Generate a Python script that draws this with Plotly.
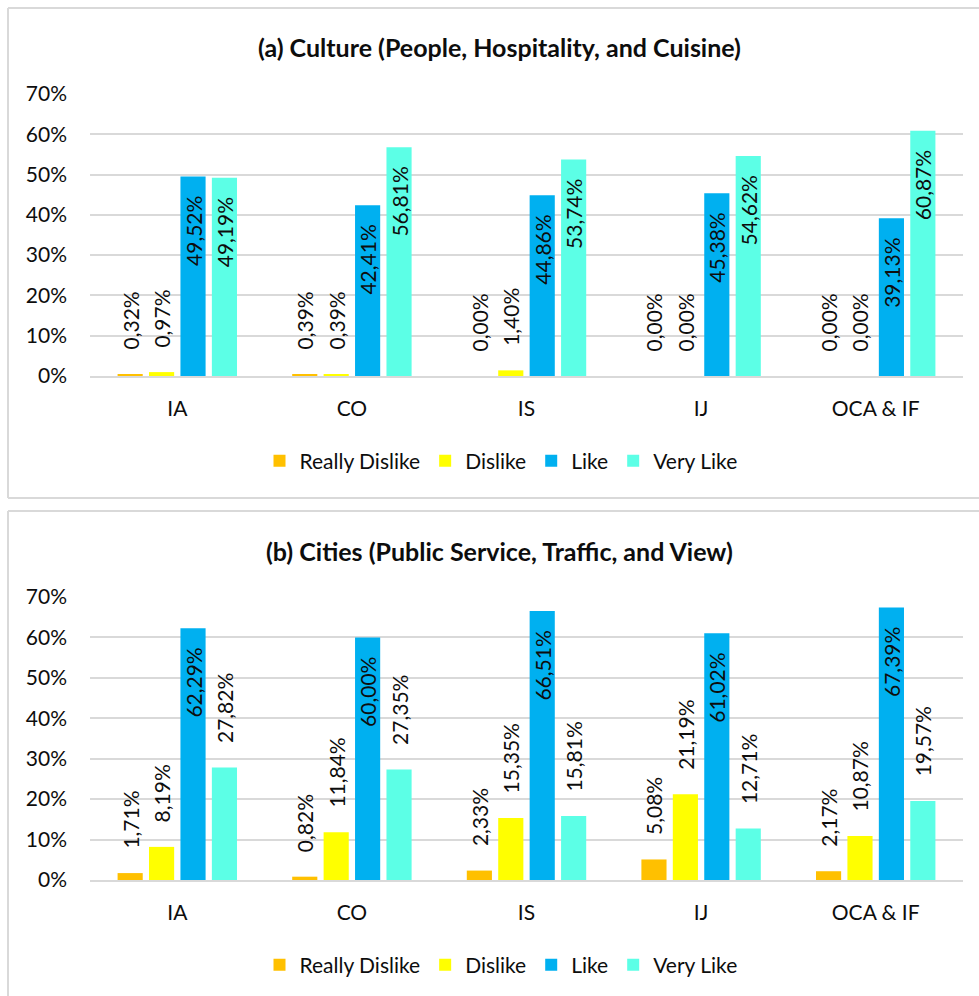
import plotly.graph_objects as go

W, H = 979, 996

categories = ["IA", "CO", "IS", "IJ", "OCA & IF"]
series_names = ["Really Dislike", "Dislike", "Like", "Very Like"]
series_colors = ["#FFC000", "#FFFF00", "#00B0F0", "#5CFFE6"]

# (a) Culture: percentages per category
culture_really_dislike = [0.32, 0.39, 0.00, 0.00, 0.00]
culture_dislike = [0.97, 0.39, 1.40, 0.00, 0.00]
culture_like = [49.52, 42.41, 44.86, 45.38, 39.13]
culture_very_like = [49.19, 56.81, 53.74, 54.62, 60.87]

# (b) Cities: percentages per category
cities_really_dislike = [1.71, 0.82, 2.33, 5.08, 2.17]
cities_dislike = [8.19, 11.84, 15.35, 21.19, 10.87]
cities_like = [62.29, 60.00, 66.51, 61.02, 67.39]
cities_very_like = [27.82, 27.35, 15.81, 12.71, 19.57]

title_a = "(a) Culture (People, Hospitality, and Cuisine)"
title_b = "(b) Cities (Public Service, Traffic, and View)"

FONT = "Lato"
TXT = "#0d0d0d"
GRID = "#d9d9d9"
NB = "\u00a0"


def px_x(x):
    return x / W


def px_y(y):
    return 1 - y / H


def fmt(v):
    return f"{v:.2f}%".replace(".", ",")


def label(v, inside):
    # padding keeps the rotated labels clear of the bar ends
    return fmt(v) + NB * 3 if inside else NB * 4 + fmt(v)


fig = go.Figure()

panels = [
    ("x", "y", "legend",
     [culture_really_dislike, culture_dislike, culture_like, culture_very_like],
     [False, False, True, True]),
    ("x2", "y2", "legend2",
     [cities_really_dislike, cities_dislike, cities_like, cities_very_like],
     [False, False, True, False]),
]

for xa, ya, lg, values, inside_flags in panels:
    for name, color, vals, inside in zip(series_names, series_colors, values, inside_flags):
        fig.add_trace(go.Bar(
            x=categories,
            y=[v / 100 for v in vals],
            name=name,
            marker=dict(color=color, line=dict(width=0)),
            text=[label(v, inside) for v in vals],
            textposition="inside" if inside else "outside",
            insidetextanchor="end",
            textangle=-90,
            constraintext="none",
            cliponaxis=False,
            textfont=dict(family=FONT, size=21, color=TXT),
            xaxis=xa, yaxis=ya, legend=lg,
            hoverinfo="skip",
        ))

x_dom = [px_x(90), px_x(963)]

yaxis_common = dict(
    range=[0, 0.7], dtick=0.1, tickformat=".0%",
    showgrid=True, gridcolor=GRID, gridwidth=2,
    zeroline=False, showline=False, ticks="",
    ticklabelstandoff=22, automargin=False,
    tickfont=dict(family=FONT, size=21, color=TXT),
    fixedrange=True,
)
xaxis_common = dict(
    domain=x_dom, showline=True, linecolor=GRID, linewidth=2,
    ticks="", showgrid=False, ticklabelstandoff=13, automargin=False,
    tickfont=dict(family=FONT, size=21, color=TXT),
    fixedrange=True,
)

legend_common = dict(
    orientation="h", xanchor="center", yanchor="middle",
    font=dict(family=FONT, size=21, color=TXT),
    bgcolor="rgba(0,0,0,0)", itemclick=False, itemdoubleclick=False,
)

fig.update_layout(
    width=W, height=H,
    margin=dict(l=0, r=0, t=0, b=0, autoexpand=False),
    paper_bgcolor="white", plot_bgcolor="white",
    barmode="group", bargap=0.28, bargroupgap=0.2,
    separators=",.",
    xaxis=dict(**xaxis_common, anchor="y"),
    yaxis=dict(**yaxis_common, domain=[px_y(376), px_y(94)], anchor="x"),
    xaxis2=dict(**xaxis_common, anchor="y2"),
    yaxis2=dict(**yaxis_common, domain=[px_y(880), px_y(597)], anchor="x2"),
    legend=dict(**legend_common, x=px_x(501), y=px_y(461)),
    legend2=dict(**legend_common, x=px_x(501), y=px_y(965)),
    annotations=[
        dict(text=f"<b>{title_a}</b>", x=px_x(500), y=px_y(47), xref="paper", yref="paper",
             showarrow=False, xanchor="center", yanchor="middle",
             font=dict(family=FONT, size=25, color=TXT)),
        dict(text=f"<b>{title_b}</b>", x=px_x(499), y=px_y(551), xref="paper", yref="paper",
             showarrow=False, xanchor="center", yanchor="middle",
             font=dict(family=FONT, size=25, color=TXT)),
    ],
    shapes=[
        # frame around panel (a)
        dict(type="line", xref="paper", yref="paper", x0=px_x(8), x1=px_x(990),
             y0=px_y(8), y1=px_y(8), line=dict(color=GRID, width=2)),
        dict(type="line", xref="paper", yref="paper", x0=px_x(8), x1=px_x(8),
             y0=px_y(8), y1=px_y(498), line=dict(color=GRID, width=2)),
        dict(type="line", xref="paper", yref="paper", x0=px_x(8), x1=px_x(990),
             y0=px_y(498), y1=px_y(498), line=dict(color=GRID, width=2)),
        # frame around panel (b)
        dict(type="line", xref="paper", yref="paper", x0=px_x(8), x1=px_x(990),
             y0=px_y(511), y1=px_y(511), line=dict(color=GRID, width=2)),
        dict(type="line", xref="paper", yref="paper", x0=px_x(8), x1=px_x(8),
             y0=px_y(511), y1=px_y(1000), line=dict(color=GRID, width=2)),
    ],
)

fig.write_html("out.html")
